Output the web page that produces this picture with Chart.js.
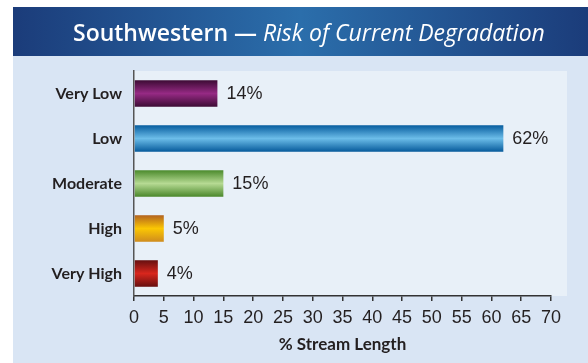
<!DOCTYPE html>
<html>
<head>
<meta charset="utf-8">
<script src="https://cdn.jsdelivr.net/npm/chart.js@4/dist/chart.umd.min.js"></script>
<style>
  html, body { margin: 0; padding: 0; background: #ffffff; }
  #wrap { position: relative; width: 588px; height: 363px; }
</style>
</head>
<body>
<div id="wrap"><canvas id="c" width="588" height="363"></canvas></div>
<script>
const categories = ["Very Low", "Low", "Moderate", "High", "Very High"];
const values = [14, 62, 15, 5, 4];
const valueLabels = ["14%", "62%", "15%", "5%", "4%"];
const xTicks = [0, 5, 10, 15, 20, 25, 30, 35, 40, 45, 50, 55, 60, 65, 70];
const barGradients = [
  ["#3c0b34", "#962a84", "#3c0b34"],
  ["#065c9e", "#6cbde9", "#065a9b"],
  ["#4b8a2c", "#b6da93", "#4a872b"],
  ["#b3631f", "#fbc703", "#cf8c1e"],
  ["#661010", "#d8261d", "#660f0f"]
];
const titleMain = "Southwestern \u2014 ";
const titleItalic = "Risk of Current Degradation";
const axisTitle = "% Stream Length";

const numFont = "'Liberation Sans Narrow', 'Liberation Sans', sans-serif";
const labelFont = "Lato, 'Open Sans', sans-serif";
const textColor = "#231f20";

const backdrop = {
  id: "backdrop",
  beforeDraw(chart) {
    const ctx = chart.ctx;
    const a = chart.chartArea;
    ctx.save();
    ctx.fillStyle = "#ffffff";
    ctx.fillRect(0, 0, chart.width, chart.height);
    ctx.fillStyle = "#d9e5f4";
    ctx.fillRect(13, 55, chart.width - 13, chart.height - 55);
    const g = ctx.createLinearGradient(13, 0, chart.width, 0);
    g.addColorStop(0, "#1b3c7a");
    g.addColorStop(0.5, "#2b6eab");
    g.addColorStop(1, "#1b3c7a");
    ctx.fillStyle = g;
    ctx.fillRect(13, 7, chart.width - 13, 49);
    ctx.fillStyle = "#e8f0f8";
    ctx.fillRect(a.left, a.top, a.right - a.left + 16, a.bottom - a.top);
    // title
    let size = 22;
    const f1 = s => `600 ${s}px 'Open Sans', sans-serif`;
    const f2 = s => `italic 400 ${s}px 'Open Sans', sans-serif`;
    const measure = s => {
      ctx.font = f1(s); const w1 = ctx.measureText(titleMain).width;
      ctx.font = f2(s); const w2 = ctx.measureText(titleItalic).width;
      return [w1, w2];
    };
    let [w1, w2] = measure(size);
    size = size * 472 / (w1 + w2);
    [w1, w2] = measure(size);
    ctx.fillStyle = "#ffffff";
    ctx.textBaseline = "alphabetic";
    ctx.textAlign = "left";
    ctx.font = f1(size);
    ctx.fillText(titleMain, 73, 41);
    ctx.font = f2(size);
    ctx.fillText(titleItalic, 73 + w1, 41);
    ctx.restore();
  },
  afterDatasetsDraw(chart) {
    const ctx = chart.ctx;
    const meta = chart.getDatasetMeta(0);
    ctx.save();
    ctx.fillStyle = textColor;
    ctx.font = `18px ${numFont}`;
    ctx.textBaseline = "middle";
    ctx.textAlign = "left";
    meta.data.forEach((bar, i) => {
      ctx.fillText(valueLabels[i], bar.x + 9, bar.y + 1);
    });
    ctx.restore();
  }
};

function barFill(c) {
  const chart = c.chart;
  const i = c.dataIndex;
  const ys = chart.scales.y;
  const a = chart.chartArea;
  if (!a || !ys || i === undefined) return barGradients[i || 0][1];
  const band = (a.bottom - a.top) / categories.length;
  const half = band * 0.59 / 2;
  const yc = ys.getPixelForValue(i);
  const g = chart.ctx.createLinearGradient(0, yc - half, 0, yc + half);
  const s = barGradients[i];
  g.addColorStop(0, s[0]);
  g.addColorStop(0.5, s[1]);
  g.addColorStop(1, s[2]);
  return g;
}

new Chart(document.getElementById("c"), {
  type: "bar",
  data: {
    labels: categories,
    datasets: [{
      data: values,
      backgroundColor: barFill,
      borderWidth: 0,
      categoryPercentage: 1,
      barPercentage: 0.59
    }]
  },
  options: {
    indexAxis: "y",
    responsive: false,
    animation: false,
    devicePixelRatio: 1,
    layout: { padding: { top: 71, right: 37, left: 0, bottom: 0 } },
    plugins: { legend: { display: false }, tooltip: { enabled: false }, title: { display: false } },
    scales: {
      x: {
        type: "linear",
        min: 0, max: 70,
        afterBuildTicks(scale) { scale.ticks = xTicks.map(v => ({ value: v })); },
        afterFit(scale) { scale.height = 67; },
        grid: { display: true, drawOnChartArea: false, drawTicks: true, tickLength: 5, color: "#333333", lineWidth: 1.5 },
        border: { display: true, color: "#333333", width: 1.5 },
        ticks: { color: textColor, font: { family: numFont, size: 18 }, padding: 6, maxRotation: 0, autoSkip: false },
        title: { display: true, text: axisTitle, color: textColor, font: { family: labelFont, size: 17, weight: "bold" }, padding: { top: 0, bottom: 8 } }
      },
      y: {
        afterFit(scale) { scale.width = 134; },
        grid: { display: false, drawTicks: false },
        border: { display: true, color: "#555555", width: 1.5 },
        ticks: { color: textColor, font: { family: labelFont, size: 16, weight: "bold" }, padding: 12 }
      }
    }
  },
  plugins: [backdrop]
});
</script>
</body>
</html>
